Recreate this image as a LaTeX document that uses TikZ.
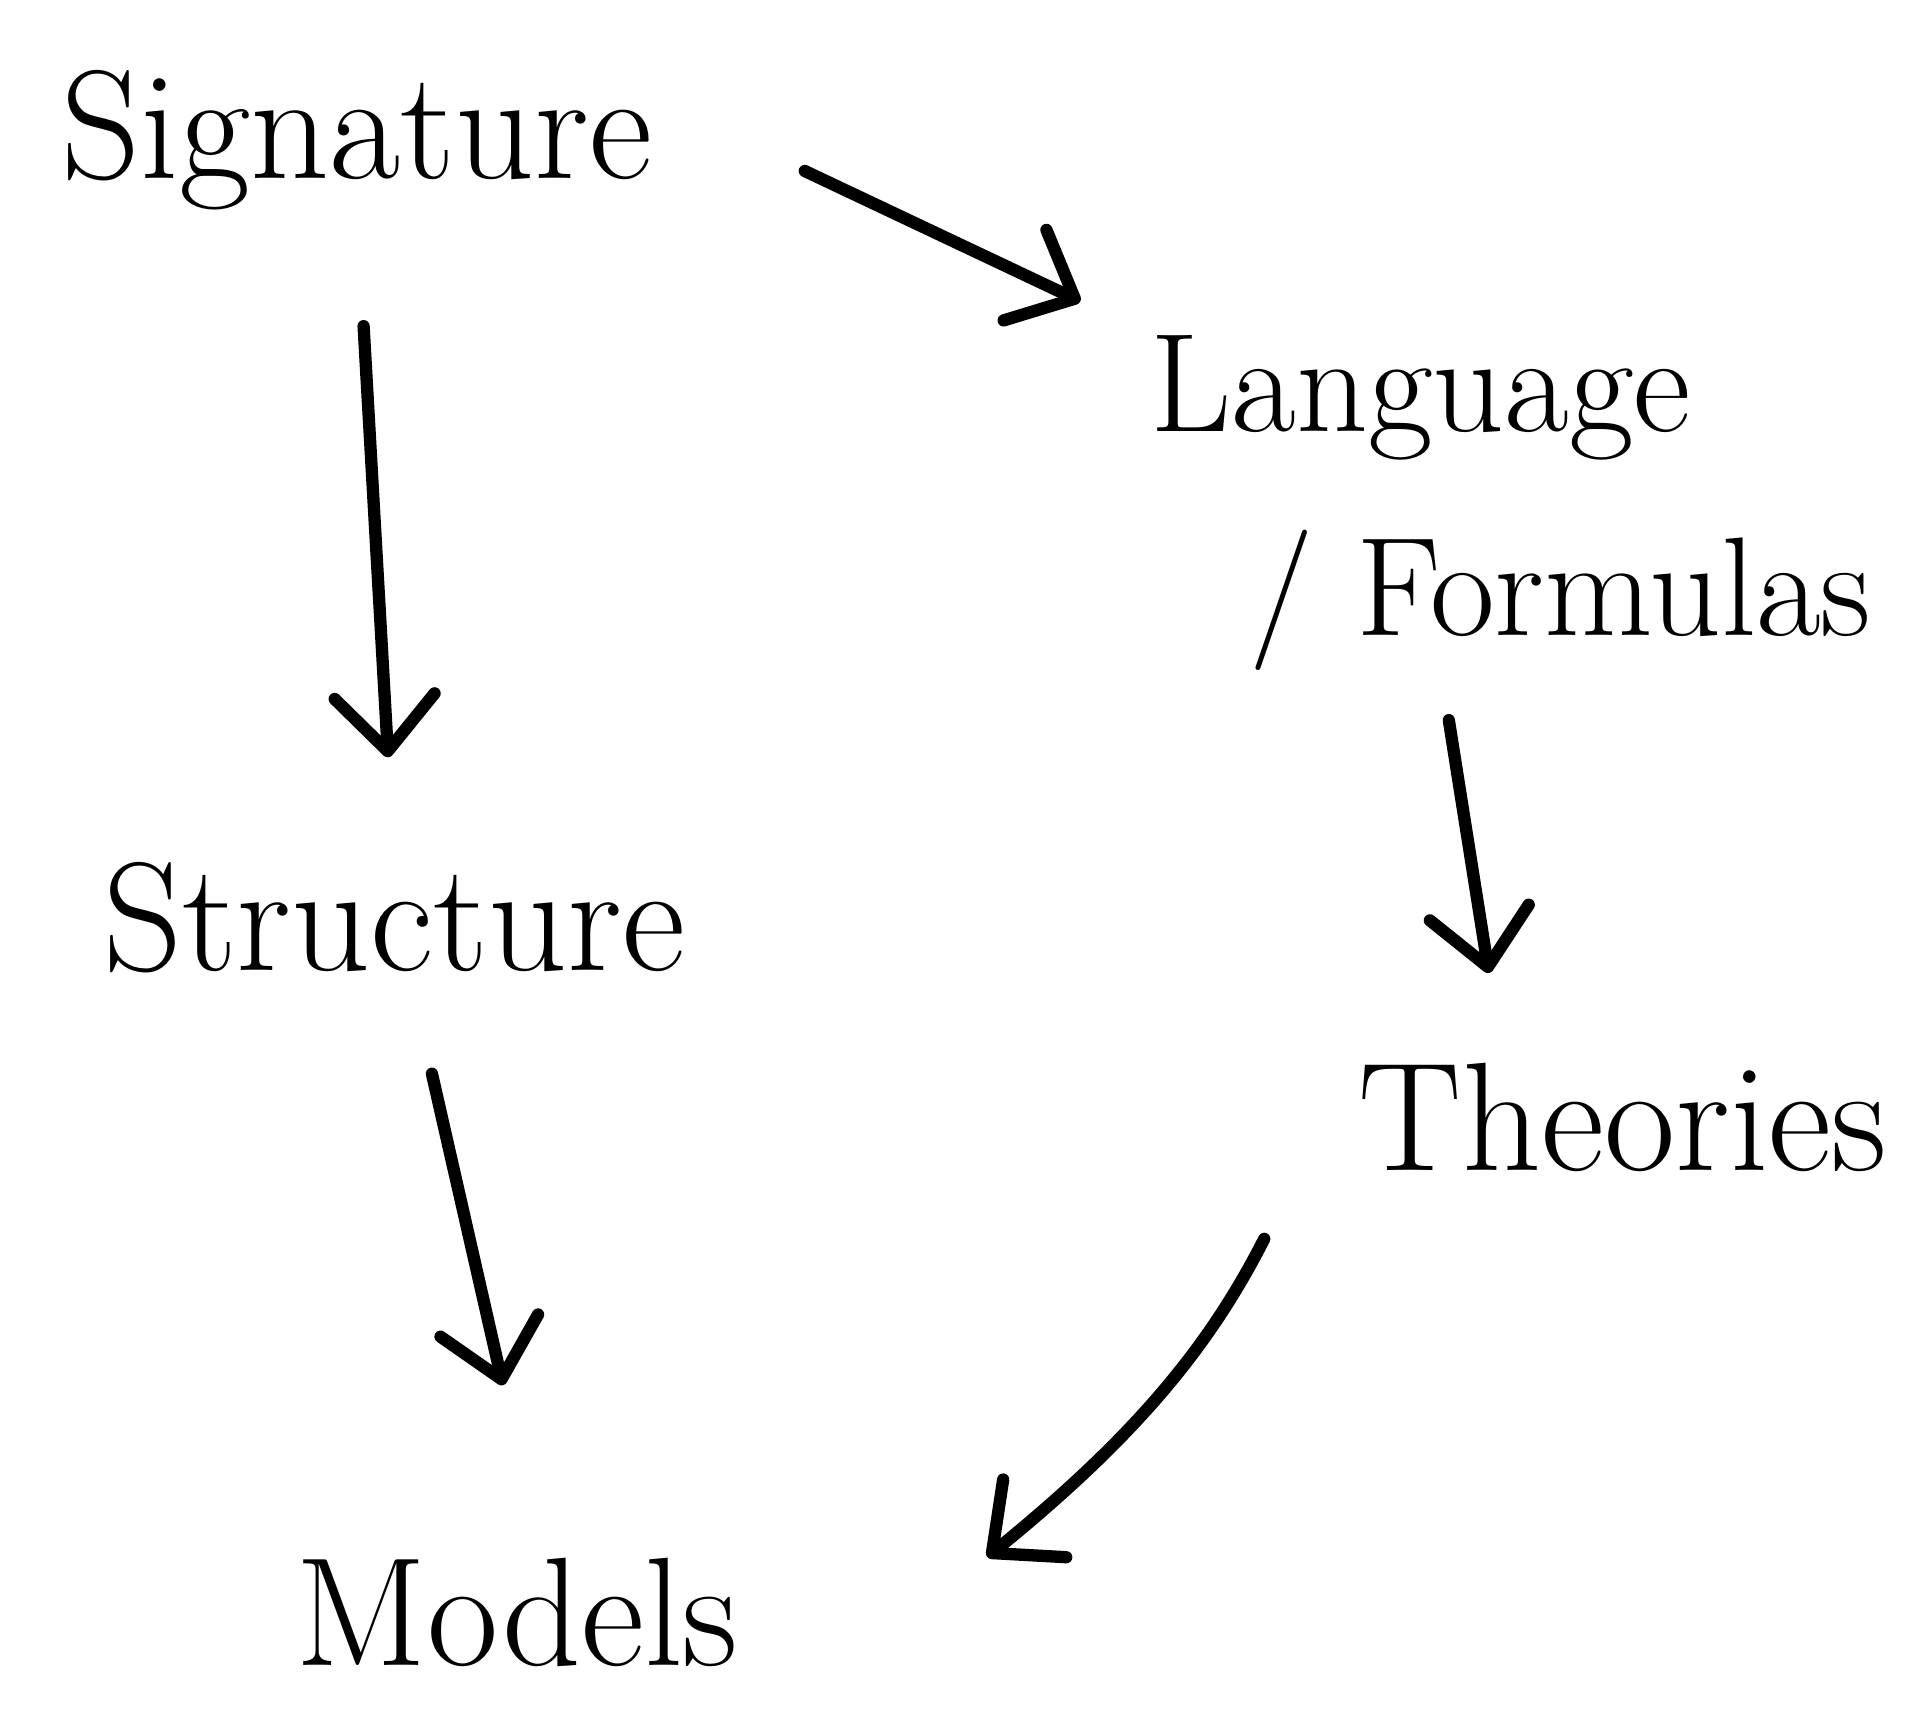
\documentclass[tikz,border=0pt]{standalone}
\usepackage{fontspec}
\usetikzlibrary{arrows.meta}

\begin{document}
\begin{tikzpicture}[x=0.01cm, y=-0.01cm,
    word/.style={inner sep=0pt, font=\fontsize{44}{58}\selectfont},
    hand/.style={line width=3.5pt, line cap=round, line join=round,
        -{Straight Barb[length=5.5mm, width=10mm, round]}}]

\useasboundingbox (0, 0) rectangle (1931, 1709);

% the five words
\node[word, anchor=base] (sig) at (357, 178) {Signature};
\node[word, anchor=base] (struct) at (394, 970) {Structure};
\node[word, anchor=base] (models) at (517, 1665) {Models};
\node[word, font=\fontsize{40}{58}\selectfont, anchor=base west, align=left]
    (lang) at (1150, 635) {Language\\\hspace*{0.7em}/ Formulas};
\node[word, anchor=base] (theo) at (1623, 1170) {Theories};

% arrows
\draw[hand, shorten <=1.68cm, shorten >=0.77cm]
    ([yshift=-0.3cm]sig.north east) -- (lang.north west);
\draw[hand, shorten <=1.16cm, shorten >=1.04cm]
    (sig.south) -- (struct.north);
\draw[hand, shorten <=1.03cm, shorten >=1.76cm]
    ([xshift=0.15cm]struct.south) -- ([xshift=0.25cm]models.north);
\draw[hand, shorten <=0.5cm, shorten >=0.9cm]
    ([xshift=-0.7cm]lang.south) -- ([xshift=-1.2cm]theo.north);
\draw[hand, shorten <=0.75cm]
    ([xshift=-0.6cm]theo.south west) to[bend left=12]
    ([xshift=2.48cm]models.north east);

\end{tikzpicture}
\end{document}
